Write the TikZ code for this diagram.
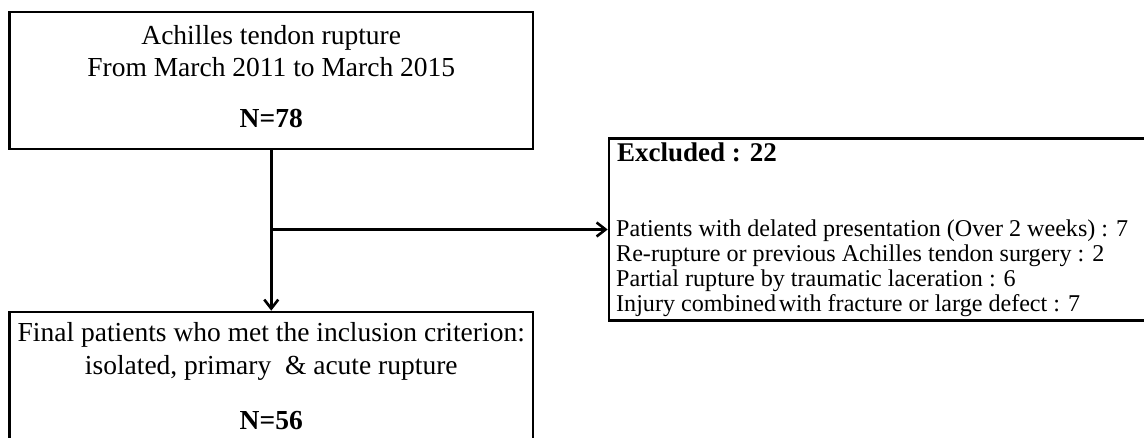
\documentclass[tikz,border=0pt]{standalone}
\usepackage{fontspec}
\setmainfont{Liberation Serif}
\usetikzlibrary{arrows.meta}
\begin{document}
\begin{tikzpicture}[x=1pt,y=-1pt,
  boxline/.style={draw=black,line width=2.6pt,rectangle,inner sep=0pt},
  conn/.style={line width=2.6pt,-{Straight Barb[length=9pt,width=14pt,line width=2.6pt]}},
  bigtxt/.style={font=\fontsize{27.5}{32}\selectfont,anchor=base,inner sep=0pt},
  smalltxt/.style={font=\fontsize{24.1}{29}\selectfont,anchor=base west,inner sep=0pt}]
\useasboundingbox (0,0) rectangle (1144,438);
\clip (0,0) rectangle (1144,438);
\fill[white] (0,0) rectangle (1144,438);
% boxes
\node[boxline,minimum width=523.5pt,minimum height=137pt] (top) at (271.25,80.5) {};
\node[boxline,minimum width=523.5pt,minimum height=150pt] (bot) at (271.25,387) {};
\node[boxline,minimum width=560pt,minimum height=182pt] (exc) at (889,229.5) {};
% texts top
\node[bigtxt] (t1) at (271.25,45) {Achilles tendon rupture};
\node[bigtxt] (t2) at (271.25,77) {From March 2011 to March 2015};
\node[bigtxt,font=\fontsize{27.5}{32}\selectfont\bfseries] (t3) at (271.25,128) {N=78};
% texts bottom
\node[bigtxt] (b1) at (271.25,342) {Final patients who met the inclusion criterion:};
\node[bigtxt] (b2) at (271.25,375) {isolated, primary \ \& acute rupture};
\node[bigtxt,font=\fontsize{27.5}{32}\selectfont\bfseries] (b3) at (271.25,430) {N=56};
% texts excluded
\node[smalltxt,font=\fontsize{27}{32}\selectfont\bfseries] (e0) at (617,162) {Excluded : 22};
\node[smalltxt] (e1) at (616,237) {Patients with delated presentation (Over 2 weeks) : 7};
\node[smalltxt] (e2) at (616,262) {Re-rupture or previous Achilles tendon surgery : 2};
\node[smalltxt] (e3) at (616,287) {Partial rupture by traumatic laceration : 6};
\node[smalltxt] (e4) at (616,312) {Injury combined\hspace{-0.14em} with fracture or large defect : 7};
% connectors
\coordinate (j) at (top.south |- exc.west);
\draw[conn] (top.south) -- (bot.north);
\draw[conn] (j) -- (exc.west);
\end{tikzpicture}
\end{document}
